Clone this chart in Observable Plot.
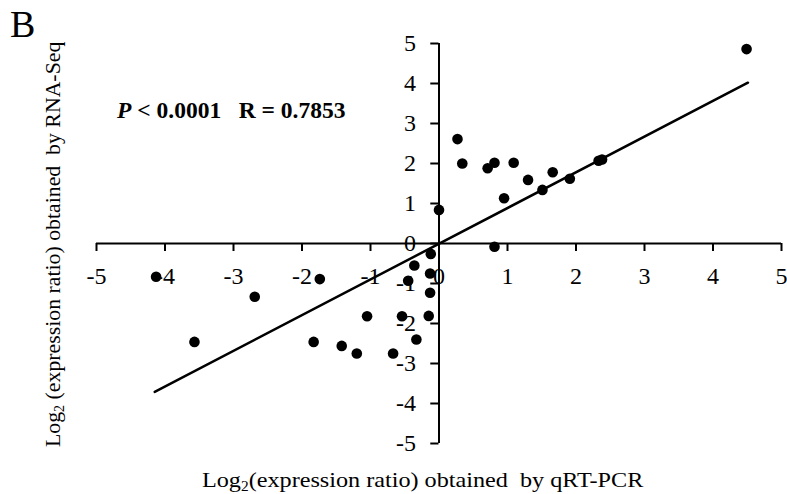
<!DOCTYPE html>
<html>
<head>
<meta charset="utf-8">
<script src="https://cdn.jsdelivr.net/npm/d3@7"></script>
<script src="https://cdn.jsdelivr.net/npm/@observablehq/plot@0.6"></script>
<style>
  html, body { margin: 0; padding: 0; background: #fff; }
  #chart { position: relative; width: 787px; height: 494px; }
</style>
</head>
<body>
<div id="chart"></div>
<script>
// Log2 expression ratio by qRT-PCR (x) and RNA-Seq (y)
const qrtpcr = [0.27, 0.34, 0.00, 0.71, 0.81, 1.09, 0.95, 1.30, 1.51, 1.66, 1.91, 2.33, 2.38, 0.81, 4.49,
  -0.12, -4.13, -1.74, -2.69, -3.57, -0.36, -0.13, -0.45, -0.13, -1.05, -0.54, -0.15, -1.83, -1.42, -1.20, -0.33, -0.67];
const rnaseq = [2.61, 2.00, 0.84, 1.88, 2.02, 2.02, 1.13, 1.59, 1.34, 1.78, 1.62, 2.07, 2.10, -0.08, 4.86,
  -0.26, -0.83, -0.89, -1.33, -2.46, -0.55, -0.75, -0.93, -1.23, -1.82, -1.82, -1.81, -2.46, -2.56, -2.75, -2.40, -2.75];
// regression line end points
const fitX = [-4.15, 4.51];
const fitY = [-3.71, 4.02];
// tick labels
const xTicks = [-5, -4, -3, -2, -1, 0, 1, 2, 3, 4, 5];
const yTicks = [-5, -4, -3, -2, -1, 0, 1, 2, 3, 4, 5];
const panelLabel = "B";
const statP = "P";
const statRest = " < 0.0001   R = 0.7853";
const xTitle = ["Log", "2", "(expression ratio) obtained  by qRT-PCR"];
const yTitle = ["Log", "2", " (expression ratio) obtained  by RNA-Seq"];

const points = qrtpcr.map((x, i) => ({x, y: rnaseq[i]}));
const fit = fitX.map((x, i) => ({x, y: fitY[i]}));

const serif = "'Liberation Serif', 'Times New Roman', serif";

const svg = Plot.plot({
  width: 787,
  height: 494,
  marginLeft: 96,
  marginRight: 6,
  marginTop: 43,
  marginBottom: 51,
  x: {domain: [-5, 5], axis: null},
  y: {domain: [-5, 5], axis: null},
  style: {background: "#fff", fontFamily: serif, color: "#000"},
  marks: [
    Plot.ruleY([0], {x1: -5, x2: 5, stroke: "#000", strokeWidth: 2}),
    Plot.ruleX([0], {y1: -5, y2: 5, stroke: "#000", strokeWidth: 2}),
    Plot.ruleX(xTicks, {x: d => d, y1: 0, y2: -0.2, stroke: "#000", strokeWidth: 2}),
    Plot.ruleY(yTicks, {y: d => d, x1: 0, x2: -0.12, stroke: "#000", strokeWidth: 2}),
    Plot.text(xTicks, {x: d => d, y: 0, dy: 33, text: d => String(d), fontSize: 24, fontFamily: serif, fill: "#000"}),
    Plot.text(yTicks, {x: 0, y: d => d, dx: -23, textAnchor: "end", text: d => String(d), fontSize: 24, fontFamily: serif, fill: "#000"}),
    Plot.line(fit, {x: "x", y: "y", stroke: "#000", strokeWidth: 2.5}),
    Plot.dot(points, {x: "x", y: "y", r: 5.3, fill: "#000", stroke: "none"})
  ]
});

const s = d3.select(svg);
s.append("text").attr("x", 10).attr("y", 37).attr("text-anchor", "start")
  .attr("font-family", serif).attr("font-size", 38).attr("fill", "#000").text(panelLabel);

const st = s.append("text").attr("x", 117).attr("y", 118).attr("text-anchor", "start")
  .attr("font-family", serif).attr("font-size", 23.5).attr("font-weight", "bold")
  .attr("fill", "#000").style("white-space", "pre").attr("xml:space", "preserve");
st.append("tspan").attr("font-style", "italic").text(statP);
st.append("tspan").text(statRest);

function titled(g) {
  return g.attr("font-family", serif).attr("fill", "#000").attr("text-anchor", "start")
    .style("white-space", "pre").attr("xml:space", "preserve");
}
const xt = titled(s.append("text")).attr("transform", "translate(202,487) scale(1.1,1)").attr("font-size", 22);
xt.append("tspan").text(xTitle[0]);
xt.append("tspan").attr("font-size", 14).attr("dy", 4).text(xTitle[1]);
xt.append("tspan").attr("dy", -4).text(xTitle[2]);

const yt = titled(s.append("text")).attr("transform", "translate(60,447) rotate(-90)").attr("font-size", 21.8);
yt.append("tspan").text(yTitle[0]);
yt.append("tspan").attr("font-size", 14).attr("dy", 4).text(yTitle[1]);
yt.append("tspan").attr("dy", -4).text(yTitle[2]);

document.getElementById("chart").appendChild(svg);
</script>
</body>
</html>
